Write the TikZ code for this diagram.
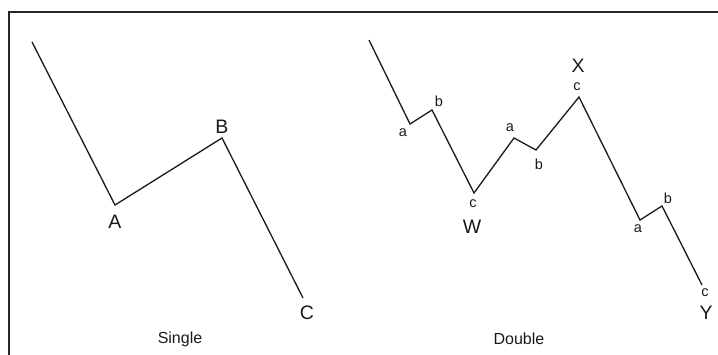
\documentclass[tikz,border=0pt]{standalone}
\usepackage{fontspec}
\setmainfont{Liberation Sans}
\usetikzlibrary{positioning}

\begin{document}
\begin{tikzpicture}[
  x=1pt, y=-1pt,
  wave/.style={draw=black!90, line width=1.3pt, line join=miter},
  frame/.style={draw=black!85, line width=1.8pt},
  big/.style={font=\fontsize{19.5}{19.5}\selectfont, inner sep=0pt, text=black!90},
  small/.style={font=\fontsize{14.5}{14.5}\selectfont, inner sep=0pt, text=black!90},
  caption/.style={font=\fontsize{16}{16}\selectfont, inner sep=0pt, text=black!90},
]
  \useasboundingbox (0,0) rectangle (718,355);
  \coordinate (fbl) at (9,356);
  \coordinate (ftl) at (9,12);
  \coordinate (ftr) at (719,12);
  \draw[frame] (fbl) -- (ftl) -- (ftr);

  % single
  \coordinate (s0) at (32,42);
  \coordinate (sA) at (115,205);
  \coordinate (sB) at (222,138);
  \coordinate (sC) at (303,298);
  \draw[wave] (s0) -- (sA) -- (sB) -- (sC);
  \node[big] (labA) at (115,222) {A};
  \node[big] (labB) at (222,127) {B};
  \node[big] (labC) at (307,313) {C};
  \node[caption] (single) at (180,339) {Single};

  % double
  \coordinate (d0) at (369,40);
  \coordinate (da1) at (410,124);
  \coordinate (db1) at (432,110);
  \coordinate (dW) at (474,193);
  \coordinate (da2) at (514,138);
  \coordinate (db2) at (536,150);
  \coordinate (dX) at (579,97);
  \coordinate (da3) at (640,220);
  \coordinate (db3) at (662,206);
  \coordinate (dY) at (702,285);
  \draw[wave] (d0) -- (da1) -- (db1) -- (dW) -- (da2) -- (db2) -- (dX)
    -- (da3) -- (db3) -- (dY);
  \node[small] (la1) at (403,133) {a};
  \node[small] (lb1) at (439,101) {b};
  \node[small] (lc1) at (473,204) {c};
  \node[big] (labW) at (472,227) {W};
  \node[small] (la2) at (510,128) {a};
  \node[small] (lb2) at (539,164) {b};
  \node[small] (lc2) at (577,87) {c};
  \node[big] (labX) at (578,66) {X};
  \node[small] (la3) at (638,229) {a};
  \node[small] (lb3) at (668,198) {b};
  \node[small] (lc3) at (705,293) {c};
  \node[big] (labY) at (706,313) {Y};
  \node[caption] (double) at (519,339) {Double};
\end{tikzpicture}
\end{document}
